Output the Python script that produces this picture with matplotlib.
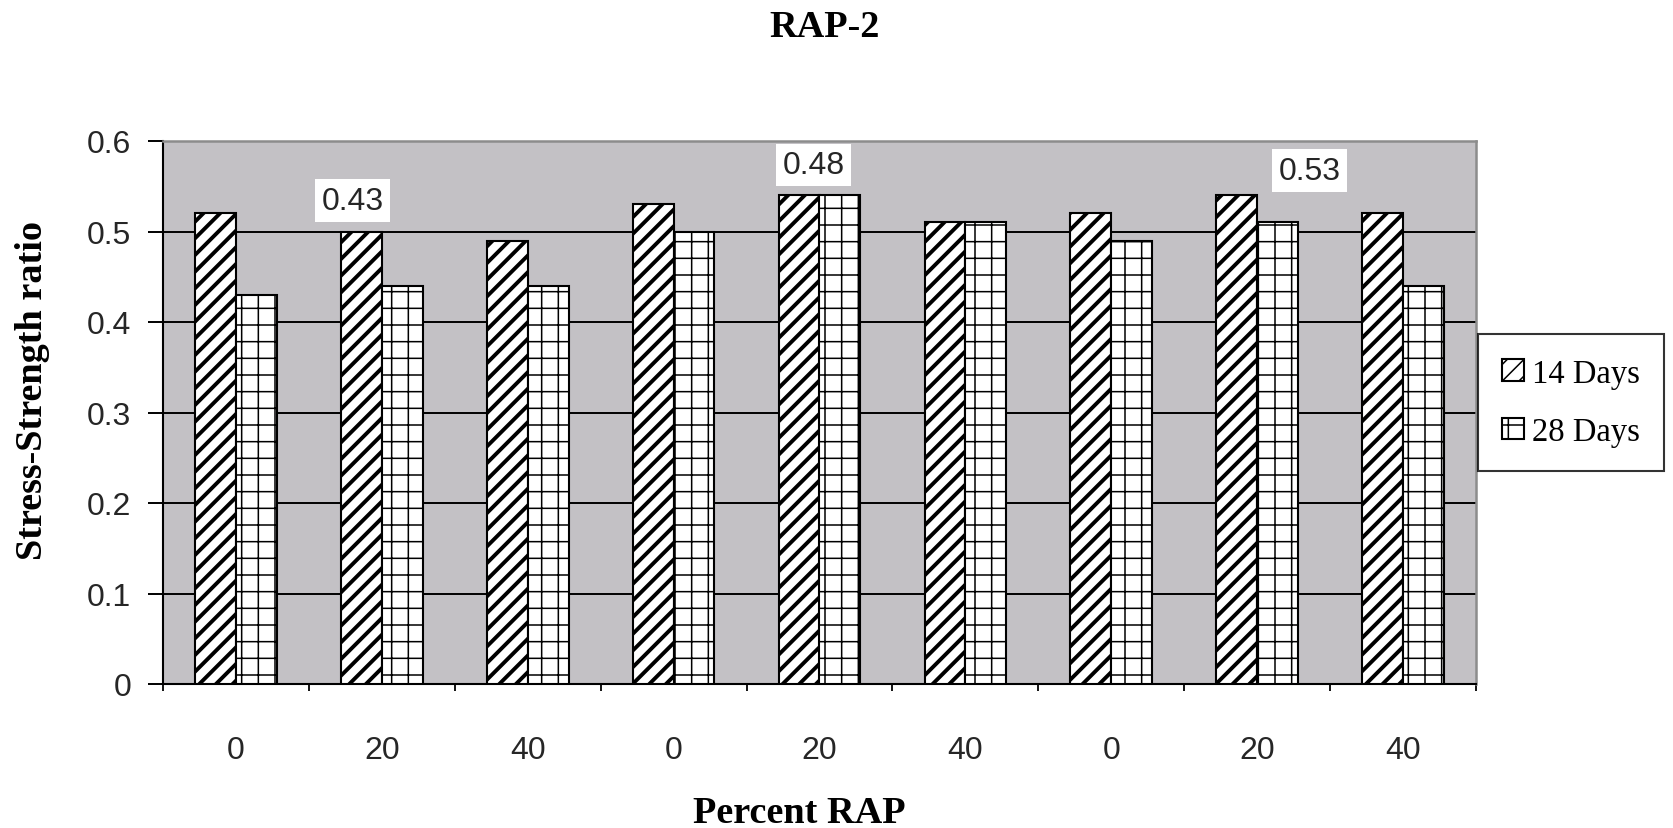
import matplotlib
matplotlib.use("Agg")
import matplotlib.pyplot as plt
import numpy as np

# ---- data ----
categories = ['0', '20', '40', '0', '20', '40', '0', '20', '40']
days14 = [0.52, 0.50, 0.49, 0.53, 0.54, 0.51, 0.52, 0.54, 0.52]
days28 = [0.43, 0.44, 0.44, 0.50, 0.54, 0.51, 0.49, 0.51, 0.44]
series_names = ['14 Days', '28 Days']
yticks = [0, 0.1, 0.2, 0.3, 0.4, 0.5, 0.6]
note_texts = ['0.43', '0.48', '0.53']

# ---- layout ----
note_x = [0.80, 3.96, 7.36]
note_y = [0.534, 0.5735, 0.567]

W, H = 1673, 829
fig = plt.figure(figsize=(W / 100, H / 100), dpi=100)
ax = fig.add_axes([163 / W, 1 - 685 / H, (1476 - 163) / W, (685 - 142) / H])

bg = '#c3c1c5'
ax.set_facecolor(bg)
x = np.arange(len(categories))
bw = 0.28

plt.rcParams['hatch.linewidth'] = 2.8
b1 = ax.bar(x - bw / 2, days14, bw, color='white', edgecolor='black',
            hatch='//', linewidth=1.5, label=series_names[0], zorder=3)
plt.rcParams['hatch.linewidth'] = 1.1
b2 = ax.bar(x + bw / 2, days28, bw, color='white', edgecolor='black',
            hatch='+', linewidth=1.5, label=series_names[1], zorder=3)
for p in b1:
    try:
        p.set_hatch_linewidth(2.8)
    except Exception:
        pass
for p in b2:
    try:
        p.set_hatch_linewidth(1.1)
    except Exception:
        pass

ax.set_xlim(-0.5, len(categories) - 0.5)
ax.set_ylim(0, 0.6)
ax.set_yticks(yticks)
ax.set_yticklabels(['0' if v == 0 else f'{v:.1f}' for v in yticks])
ax.yaxis.grid(True, color='black', linewidth=1.4, zorder=1)
ax.set_axisbelow(True)

ax.set_xticks(x)
ax.set_xticklabels(categories)
ax.set_xticks(np.arange(-0.5, len(categories)), minor=True)
ax.tick_params(axis='x', which='major', length=0, pad=36.5)
ax.tick_params(axis='x', which='minor', length=5, width=1.3, direction='out')
ax.tick_params(axis='y', length=11, width=1.4, direction='out', pad=12)

for lab in ax.get_xticklabels() + ax.get_yticklabels():
    lab.set_fontfamily('Liberation Sans')
    lab.set_fontsize(23)
    lab.set_color('#262626')

for side in ['left', 'bottom']:
    ax.spines[side].set_color('black')
    ax.spines[side].set_linewidth(1.5)
for side in ['top', 'right']:
    ax.spines[side].set_color('#8c8c8c')
    ax.spines[side].set_linewidth(1.8)

for t, nx, ny in zip(note_texts, note_x, note_y):
    ax.text(nx, ny, t, ha='center', va='center', fontfamily='Liberation Sans',
            fontsize=23, color='#262626', zorder=5,
            bbox=dict(boxstyle='square,pad=0.2', facecolor='white', edgecolor='none'))

serif_bold = dict(family='Liberation Serif', weight='bold', size=27.5)
fig.text(825 / W, 1 - 37 / H, 'RAP-2', ha='center', va='baseline', **serif_bold)
fig.text(799 / W, 1 - 823 / H, 'Percent RAP', ha='center', va='baseline', **serif_bold)
fig.text(33 / W, 1 - 391 / H, 'Stress-Strength ratio', ha='center', va='center',
         rotation=90, **serif_bold)

leg = fig.legend(handles=[b1, b2], labels=series_names,
                 loc='center left', bbox_to_anchor=(1478 / W, 1 - 403.5 / H),
                 prop=dict(family='Liberation Serif', size=23.5),
                 frameon=True, fancybox=False, shadow=False,
                 handlelength=0.65, handleheight=0.65, handletextpad=0.25,
                 borderpad=0.75, labelspacing=0.85, borderaxespad=0)
leg.get_frame().set_edgecolor('black')
leg.get_frame().set_linewidth(1.5)
leg.get_frame().set_facecolor('white')

fig.savefig('out.png', dpi=100, facecolor='white')
